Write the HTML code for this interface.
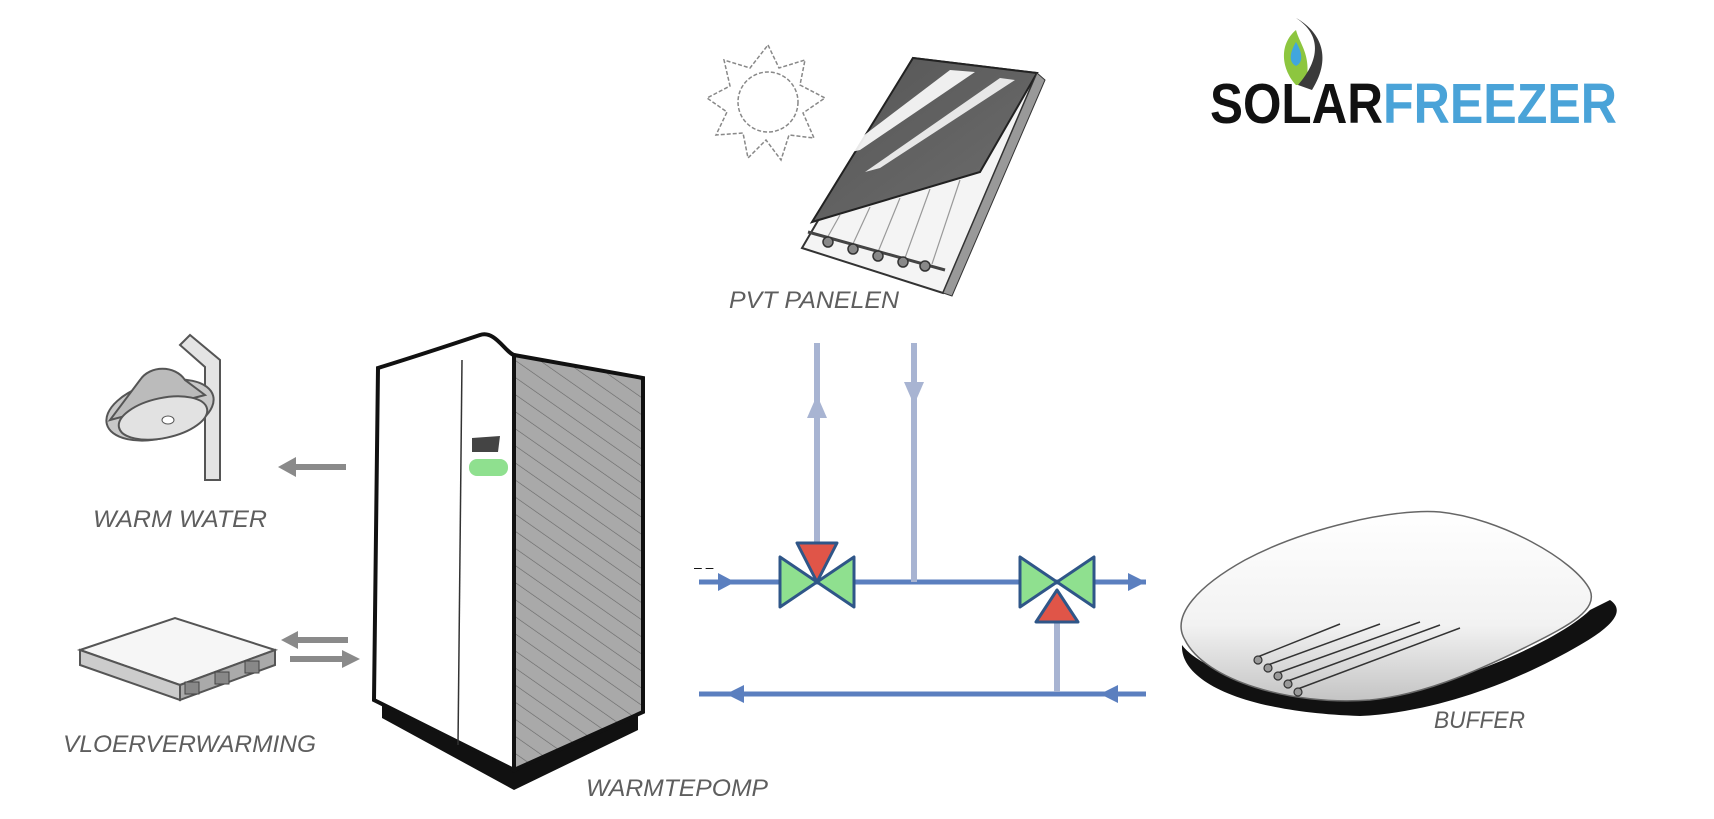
<!DOCTYPE html>
<html><head><meta charset="utf-8"><style>
html,body{margin:0;padding:0;background:#fff;}
svg{display:block;}
.lb{font-family:"Liberation Sans Narrow","Liberation Sans",sans-serif;font-style:italic;fill:#5e5e5e;font-size:24px;}
</style></head><body>
<svg width="1714" height="819" viewBox="0 0 1714 819" xmlns="http://www.w3.org/2000/svg">
<defs>
<pattern id="hatch" width="14" height="14" patternUnits="userSpaceOnUse" patternTransform="rotate(-55)">
<rect width="14" height="14" fill="#a9a9a9"/><line x1="0" y1="0" x2="0" y2="14" stroke="#666" stroke-width="1.2"/>
</pattern>
<linearGradient id="buf" x1="0" y1="0" x2="0" y2="1"><stop offset="0" stop-color="#fff"/><stop offset="0.6" stop-color="#f2f2f2"/><stop offset="1" stop-color="#c4c4c4"/></linearGradient>
<linearGradient id="pv" x1="0" y1="0" x2="1" y2="1"><stop offset="0" stop-color="#555"/><stop offset="1" stop-color="#6e6e6e"/></linearGradient>
</defs>

<!-- Logo -->
<path d="M1296 85 C1282 70,1278 45,1296 30 C1300 45,1312 55,1306 85 Z" fill="#8dc63f"/>
<path d="M1298 85 C1320 60,1322 35,1296 18 C1318 30,1334 55,1312 90 Z" fill="#3a3a3a"/>
<path d="M1296 42 C1290 52,1288 62,1296 66 C1304 62,1302 52,1296 42 Z" fill="#41a6de"/>
<text x="1210" y="123" font-family="Liberation Sans,sans-serif" font-weight="bold" font-size="57" textLength="173" lengthAdjust="spacingAndGlyphs" fill="#111">SOLAR</text>
<text x="1383" y="123" font-family="Liberation Sans,sans-serif" font-weight="bold" font-size="57" textLength="234" lengthAdjust="spacingAndGlyphs" fill="#4aa3d8">FREEZER</text>

<!-- Sun -->
<g fill="none" stroke="#888" stroke-width="1.5" stroke-dasharray="4 2">
<circle cx="768" cy="102" r="30"/>
<polygon points="768,45 779,68 805,60 800,85 825,98 803,113 814,138 789,135 781,160 766,140 748,158 743,133 716,135 727,112 707,98 730,86 724,60 750,68"/>
</g>

<!-- PVT panel -->
<polygon points="913,58 1037,73 943,293 802,248" fill="#f4f4f4" stroke="#333" stroke-width="2"/>
<polygon points="913,58 1037,73 980,172 812,222" fill="url(#pv)" stroke="#222" stroke-width="2"/>
<polygon points="950,70 975,72 860,150 838,155" fill="#fff" opacity="0.9"/>
<polygon points="1000,78 1015,80 880,168 865,172" fill="#fff" opacity="0.85"/>
<polygon points="1037,73 1045,80 952,296 943,293" fill="#999" stroke="#333" stroke-width="1"/>
<g stroke="#999" stroke-width="1.2">
<line x1="840" y1="215" x2="826" y2="240"/><line x1="870" y1="207" x2="852" y2="246"/><line x1="900" y1="198" x2="878" y2="252"/><line x1="930" y1="189" x2="905" y2="258"/><line x1="960" y1="180" x2="932" y2="264"/>
</g>
<line x1="808" y1="232" x2="945" y2="270" stroke="#444" stroke-width="3"/>
<g fill="#888" stroke="#333" stroke-width="1.5">
<circle cx="828" cy="242" r="5"/><circle cx="853" cy="249" r="5"/><circle cx="878" cy="256" r="5"/><circle cx="903" cy="262" r="5"/><circle cx="925" cy="266" r="5"/>
</g>
<text x="729" y="308" class="lb" font-size="25" textLength="170" lengthAdjust="spacingAndGlyphs">PVT PANELEN</text>

<!-- Shower -->
<g stroke="#555" stroke-width="2" fill="#ddd">
<path d="M220 480 L220 360 L190 335 L180 345 L205 367 L205 480 Z" fill="#e4e4e4"/>
<path d="M170 375 L190 385 L175 405 L160 395 Z" fill="#ccc"/>
<ellipse cx="160" cy="410" rx="55" ry="28" transform="rotate(-15 160 410)" fill="#c8c8c8"/>
<path d="M140 380 C150 365,175 365,185 380 L205 395 L110 420 Z" fill="#bbb"/>
<ellipse cx="163" cy="418" rx="45" ry="20" transform="rotate(-12 163 418)" fill="#e2e2e2"/>
</g>
<ellipse cx="168" cy="420" rx="6" ry="4" fill="#fff" stroke="#555"/>
<line x1="346" y1="467" x2="292" y2="467" stroke="#8a8a8a" stroke-width="6"/>
<polygon points="278,467 296,457 296,477" fill="#8a8a8a"/>
<text x="93" y="527" class="lb" textLength="174" lengthAdjust="spacingAndGlyphs">WARM WATER</text>

<!-- Floor heating -->
<polygon points="80,650 175,618 275,650 180,685" fill="#f6f6f6" stroke="#555" stroke-width="2"/>
<polygon points="80,650 180,685 180,700 80,665" fill="#ccc" stroke="#555" stroke-width="2"/>
<polygon points="180,685 275,650 275,665 180,700" fill="#aaa" stroke="#555" stroke-width="2"/>
<g fill="#888" stroke="#444"><rect x="185" y="682" width="14" height="12"/><rect x="215" y="672" width="14" height="12"/><rect x="245" y="661" width="14" height="12"/></g>
<line x1="348" y1="640" x2="295" y2="640" stroke="#8a8a8a" stroke-width="6"/><polygon points="281,640 298,631 298,649" fill="#8a8a8a"/>
<line x1="290" y1="659" x2="345" y2="659" stroke="#8a8a8a" stroke-width="6"/><polygon points="360,659 342,650 342,668" fill="#8a8a8a"/>
<text x="63" y="752" class="lb" textLength="253" lengthAdjust="spacingAndGlyphs">VLOERVERWARMING</text>

<!-- Heat pump -->
<polygon points="382,700 514,770 638,712 638,730 514,790 382,718" fill="#111"/>
<polygon points="514,355 643,378 643,712 514,770" fill="url(#hatch)" stroke="#111" stroke-width="4"/>
<path d="M378 368 C420 355,450 345,480 335 C495 330,505 352,514 355 L514 770 L374 700 Z" fill="#fff" stroke="#111" stroke-width="4"/>
<line x1="462" y1="360" x2="458" y2="745" stroke="#333" stroke-width="1.5"/>
<polygon points="472,438 500,436 498,452 472,452" fill="#444"/>
<rect x="469" y="459" width="39" height="17" rx="8" fill="#8fe08f"/>
<text x="586" y="796" class="lb" textLength="182" lengthAdjust="spacingAndGlyphs">WARMTEPOMP</text>

<!-- Pipes -->
<g stroke="#5b7fbf" stroke-width="5">
<line x1="699" y1="582" x2="1146" y2="582"/>
<line x1="699" y1="694" x2="1146" y2="694"/>
</g>
<g fill="#5b7fbf">
<polygon points="735,582 718,573 718,591"/>
<polygon points="1146,582 1128,573 1128,591"/>
<polygon points="726,694 744,685 744,703"/>
<polygon points="1100,694 1118,685 1118,703"/>
</g>
<g stroke="#a8b4d2" stroke-width="6">
<line x1="817" y1="343" x2="817" y2="550"/>
<line x1="914" y1="343" x2="914" y2="582"/>
<line x1="1057" y1="610" x2="1057" y2="692"/>
</g>
<polygon points="817,395 807,418 827,418" fill="#a8b4d2"/>
<polygon points="914,405 904,382 924,382" fill="#a8b4d2"/>
<text x="694" y="572" font-family="Liberation Sans,sans-serif" font-size="14" fill="#000">– –</text>

<!-- Valve 1 -->
<g stroke="#2f5688" stroke-width="3" stroke-linejoin="round">
<polygon points="780,557 780,607 817,582" fill="#8fe08f"/>
<polygon points="854,557 854,607 817,582" fill="#8fe08f"/>
<polygon points="797,543 837,543 817,582" fill="#e05548"/>
</g>
<!-- Valve 2 -->
<g stroke="#2f5688" stroke-width="3" stroke-linejoin="round">
<polygon points="1020,557 1020,607 1057,582" fill="#8fe08f"/>
<polygon points="1094,557 1094,607 1057,582" fill="#8fe08f"/>
<polygon points="1036,622 1078,622 1057,590" fill="#e05548"/>
</g>

<!-- Buffer -->
<path d="M1182 645 C1180 680,1240 712,1360 716 C1440 712,1520 680,1580 645 C1615 625,1625 610,1610 600 L1590 610 C1560 640,1450 690,1370 695 C1280 700,1200 670,1182 645 Z" fill="#111"/>
<path d="M1185 640 C1170 615,1200 585,1245 560 C1305 528,1395 508,1440 512 C1500 518,1575 560,1590 590 C1598 610,1570 625,1530 645 C1470 675,1420 695,1370 700 C1290 706,1205 680,1185 640 Z" fill="url(#buf)" stroke="#666" stroke-width="1.5"/>
<g stroke="#333" stroke-width="1.5">
<line x1="1255" y1="658" x2="1340" y2="624"/><line x1="1265" y1="666" x2="1380" y2="624"/><line x1="1275" y1="674" x2="1420" y2="622"/><line x1="1285" y1="682" x2="1440" y2="625"/><line x1="1295" y1="690" x2="1460" y2="628"/>
</g>
<g fill="#999" stroke="#333" stroke-width="1.2">
<circle cx="1258" cy="660" r="4"/><circle cx="1268" cy="668" r="4"/><circle cx="1278" cy="676" r="4"/><circle cx="1288" cy="684" r="4"/><circle cx="1298" cy="692" r="4"/>
</g>
<text x="1434" y="728" class="lb" textLength="91" lengthAdjust="spacingAndGlyphs">BUFFER</text>
</svg>
</body></html>
